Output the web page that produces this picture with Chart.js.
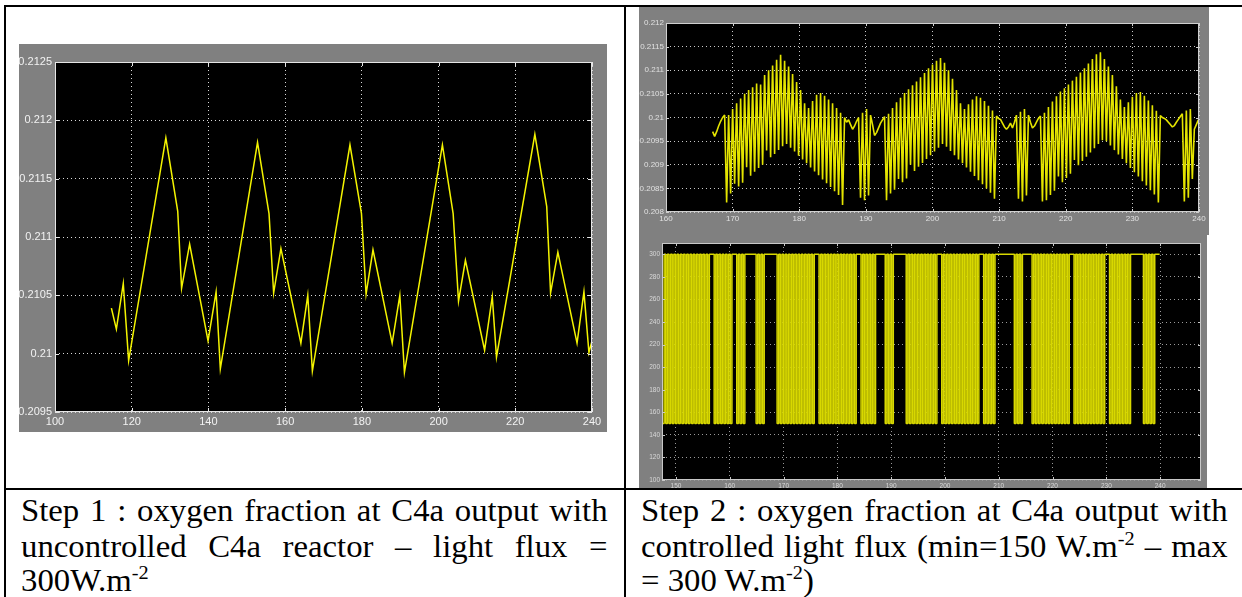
<!DOCTYPE html>
<html>
<head>
<meta charset="utf-8">
<script src="https://cdn.jsdelivr.net/npm/chart.js@4.4.1/dist/chart.umd.min.js"></script>
<style>
html, body { margin: 0; padding: 0; background: #fff; }
body { width: 1242px; height: 597px; position: relative; overflow: hidden; }
.rule { position: absolute; background: #000; }
.scope { position: absolute; background: #808080; }
.cap {
    position: absolute; height: 36px; white-space: nowrap; color: #000;
    font-family: 'Liberation Serif', 'Times New Roman', serif; font-size: 31.5px; line-height: 36px;
    transform-origin: 0 0; transform: scaleX(1.04);
}
.cap.j { white-space: normal; text-align: justify; text-align-last: justify; }
.cap sup { font-size: 0.62em; line-height: 0; vertical-align: 0.6em; }
</style>
</head>
<body>

<div class="rule" style="left:4px;top:5px;width:1238px;height:2px"></div>
<div class="rule" style="left:4px;top:5px;width:2px;height:592px"></div>
<div class="rule" style="left:624px;top:5px;width:2px;height:592px"></div>
<div class="rule" style="left:4px;top:488px;width:1238px;height:2px"></div>

<div class="scope" style="left:19px;top:44px;width:588px;height:388px"><canvas id="stepOneChart"></canvas></div>
<div class="scope" style="left:639px;top:7px;width:570px;height:228px"><canvas id="stepTwoChart"></canvas></div>
<div class="scope" style="left:639px;top:235px;width:568px;height:253px"><canvas id="fluxChart"></canvas></div>

<div class="cap j" style="left:21px;top:493px;width:564px">Step 1 : oxygen fraction at C4a output with</div>
<div class="cap j" style="left:21px;top:529px;width:564px">uncontrolled C4a reactor – light flux =</div>
<div class="cap" style="left:21px;top:563px">300W.m<sup>-2</sup></div>

<div class="cap j" style="left:641px;top:493px;width:564px">Step 2 : oxygen fraction at C4a output with</div>
<div class="cap j" style="left:641px;top:529px;width:564px">controlled light flux (min=150 W.m<sup>-2</sup> – max</div>
<div class="cap" style="left:641px;top:563px">= 300 W.m<sup>-2</sup>)</div>

<script>
/* Step 1 / Step 2 scope captures — oxygen fraction at C4a output */
Chart.defaults.animation = false;
Chart.defaults.devicePixelRatio = 1;

// Step 1: uncontrolled reactor, light flux 300 W/m2 (turning points)
const stepOneTime = [114.7, 116.0, 117.8, 119.2, 128.9, 132.0, 133.0, 135.1, 139.9, 142.0, 143.1,
    152.8, 155.8, 157.0, 158.9, 164.1, 165.9, 167.1,
    176.9, 179.9, 181.1, 182.9, 187.9, 189.9, 191.1,
    201.0, 203.8, 205.2, 207.0, 212.0, 214.0, 215.1,
    225.1, 228.2, 229.2, 231.1, 236.1, 237.9, 239.2, 240.0];
const stepOneO2 = [0.21039, 0.21021, 0.21060, 0.20994, 0.21185, 0.21122, 0.21056, 0.21094, 0.21011, 0.21053, 0.20987,
    0.21181, 0.21120, 0.21052, 0.21090, 0.21009, 0.21050, 0.20985,
    0.21179, 0.21120, 0.21051, 0.21089, 0.21009, 0.21050, 0.20984,
    0.21179, 0.21120, 0.21045, 0.21080, 0.21003, 0.21049, 0.20997,
    0.21188, 0.21126, 0.21052, 0.21087, 0.21009, 0.21053, 0.21001, 0.21011];
const stepOneXTicks = [100, 120, 140, 160, 180, 200, 220, 240];
const stepOneYTicks = [0.2095, 0.21, 0.2105, 0.211, 0.2115, 0.212, 0.2125];

// Step 2: controlled light flux, scope samples every 0.3 from t = 167
const stepTwoStart = 167, stepTwoDt = 0.3;
const stepTwoO2 = [
    // 167.0 - 168.8
    0.20970, 0.20960, 0.20970, 0.20982, 0.20992, 0.21000, 0.21005,
    // ripple burst 169.1 - 186.8
    0.20820, 0.21005, 0.20839, 0.21018, 0.20860, 0.21030, 0.20854, 0.21040, 0.20862, 0.21050,
    0.20895, 0.21058, 0.20877, 0.21064, 0.20885, 0.21072, 0.20893, 0.21070, 0.20900, 0.21090,
    0.20930, 0.21100, 0.20916, 0.21110, 0.20923, 0.21122, 0.20931, 0.21133, 0.20939, 0.21120,
    0.20944, 0.21108, 0.20936, 0.21092, 0.20928, 0.21075, 0.20919, 0.21058, 0.20911, 0.21030,
    0.20903, 0.21020, 0.20894, 0.21035, 0.20886, 0.21048, 0.20878, 0.21052, 0.20869, 0.21046,
    0.20861, 0.21038, 0.20853, 0.21030, 0.20844, 0.21020, 0.20836, 0.21010, 0.20815, 0.21000,
    // 187.1 - 188.9
    0.20990, 0.20995, 0.20985, 0.20975, 0.20982, 0.20992, 0.21000,
    // 189.2 - 190.7
    0.20830, 0.21010, 0.20825, 0.21018, 0.20835, 0.21005,
    // 191.0 - 192.8
    0.20985, 0.20962, 0.20968, 0.20978, 0.20988, 0.20995, 0.21002,
    // ripple burst 193.1 - 209.6
    0.20825, 0.21008, 0.20839, 0.21020, 0.20847, 0.21032, 0.20870, 0.21042, 0.20863, 0.21052,
    0.20871, 0.21060, 0.20900, 0.21068, 0.20887, 0.21076, 0.20896, 0.21085, 0.20904, 0.21094,
    0.20912, 0.21104, 0.20920, 0.21112, 0.20928, 0.21120, 0.20936, 0.21126, 0.20944, 0.21116,
    0.20938, 0.21100, 0.20929, 0.21082, 0.20920, 0.21058, 0.20911, 0.21030, 0.20903, 0.21018,
    0.20894, 0.21028, 0.20885, 0.21038, 0.20876, 0.21045, 0.20867, 0.21042, 0.20859, 0.21035,
    0.20850, 0.21025, 0.20841, 0.21015, 0.20828, 0.21003,
    // 209.9 - 212.6
    0.20998, 0.20996, 0.20988, 0.20980, 0.20975, 0.20980, 0.20988, 0.20978, 0.20990, 0.21005,
    // 212.9 - 214.4
    0.20828, 0.21012, 0.20822, 0.21018, 0.20835, 0.21005,
    // 214.7 - 216.2
    0.20990, 0.20978, 0.20982, 0.20990, 0.20998, 0.21003,
    // ripple burst 216.5 - 234.2
    0.20822, 0.21010, 0.20825, 0.21022, 0.20836, 0.21034, 0.20845, 0.21045, 0.20875, 0.21055,
    0.20863, 0.21062, 0.20872, 0.21070, 0.20881, 0.21078, 0.20910, 0.21086, 0.20899, 0.21095,
    0.20908, 0.21104, 0.20917, 0.21114, 0.20926, 0.21124, 0.20935, 0.21134, 0.20944, 0.21138,
    0.20952, 0.21124, 0.20950, 0.21108, 0.20941, 0.21090, 0.20931, 0.21066, 0.20922, 0.21038,
    0.20912, 0.21022, 0.20903, 0.21032, 0.20893, 0.21044, 0.20884, 0.21052, 0.20875, 0.21054,
    0.20865, 0.21046, 0.20856, 0.21036, 0.20846, 0.21026, 0.20837, 0.21014, 0.20820, 0.21004,
    // 234.5 - 237.5
    0.21000, 0.20998, 0.20995, 0.20990, 0.20985, 0.20980, 0.20983, 0.20990, 0.20996, 0.21002, 0.21008,
    // 237.8 - 239.0
    0.20822, 0.21015, 0.20830, 0.21018, 0.20870,
    // 239.3 - 239.9
    0.20975, 0.20985, 0.20995
];
const stepTwoXTicks = [160, 170, 180, 190, 200, 210, 220, 230, 240];
const stepTwoYTicks = [0.208, 0.2085, 0.209, 0.2095, 0.21, 0.2105, 0.211, 0.2115, 0.212];

// light flux command (W/m2), same 0.3 sampling, from t = 147.5
const fluxStart = 147.5, fluxDt = 0.3;
const fluxValues = [
    150, 300, 150, 300, 150, 300, 150, 300, 150, 300,
    150, 300, 150, 300, 150, 300, 150, 300, 150, 300,
    150, 300, 150, 300, 150, 300, 150, 300, 150, 300,
    300, 300, 150, 300, 150, 300, 150, 300, 150, 300,
    150, 300, 150, 300, 300, 300, 150, 300, 150, 300,
    150, 300, 300, 300, 300, 300, 300, 300, 150, 300,
    150, 300, 150, 300, 300, 300, 300, 300, 300, 300,
    300, 150, 300, 150, 300, 150, 300, 150, 300, 150,
    300, 150, 300, 150, 300, 150, 300, 150, 300, 150,
    300, 150, 300, 150, 300, 300, 300, 150, 300, 150,
    300, 150, 300, 150, 300, 150, 300, 150, 300, 150,
    300, 150, 300, 150, 300, 150, 300, 150, 300, 150,
    300, 300, 300, 150, 300, 150, 300, 150, 300, 150,
    300, 150, 300, 300, 300, 300, 300, 300, 150, 300,
    150, 300, 150, 300, 300, 300, 300, 300, 300, 300,
    300, 150, 300, 150, 300, 150, 300, 150, 300, 150,
    300, 150, 300, 150, 300, 150, 300, 150, 300, 150,
    300, 300, 300, 150, 300, 150, 300, 150, 300, 150,
    300, 150, 300, 150, 300, 150, 300, 150, 300, 150,
    300, 150, 300, 150, 300, 150, 300, 300, 300, 150,
    300, 150, 300, 150, 300, 150, 300, 300, 300, 300,
    300, 300, 300, 300, 300, 300, 300, 300, 150, 300,
    150, 300, 150, 300, 300, 300, 300, 300, 300, 150,
    300, 150, 300, 150, 300, 150, 300, 150, 300, 150,
    300, 150, 300, 150, 300, 150, 300, 150, 300, 150,
    300, 150, 300, 300, 300, 150, 300, 150, 300, 150,
    300, 150, 300, 150, 300, 150, 300, 150, 300, 150,
    300, 150, 300, 150, 300, 300, 300, 150, 300, 150,
    300, 150, 300, 150, 300, 150, 300, 150, 300, 150,
    300, 300, 300, 300, 300, 300, 300, 300, 150, 300,
    150, 300, 150, 300, 150, 300, 300, 300, 300
];
const fluxXTicks = [150, 160, 170, 180, 190, 200, 210, 220, 230, 240];
const fluxYTicks = [100, 120, 140, 160, 180, 200, 220, 240, 260, 280, 300];

// black plot area + light box with inward tick marks, like the Simulink scope
const scopeFrame = {
    id: 'scopeFrame',
    beforeDraw(chart) {
        const { ctx, chartArea: a } = chart;
        ctx.save();
        ctx.fillStyle = '#000';
        ctx.fillRect(a.left, a.top, a.width, a.height);
        ctx.restore();
    },
    afterDraw(chart, args, o) {
        const { ctx, chartArea: a, scales: { x, y } } = chart;
        ctx.save();
        ctx.strokeStyle = o.color;
        ctx.lineWidth = 1;
        ctx.beginPath();
        x.ticks.forEach(t => {
            const px = Math.round(x.getPixelForValue(t.value)) + 0.5;
            ctx.moveTo(px, a.bottom); ctx.lineTo(px, a.bottom - o.tick);
            ctx.moveTo(px, a.top);    ctx.lineTo(px, a.top + o.tick);
        });
        y.ticks.forEach(t => {
            const py = Math.round(y.getPixelForValue(t.value)) + 0.5;
            ctx.moveTo(a.left, py);  ctx.lineTo(a.left + o.tick, py);
            ctx.moveTo(a.right, py); ctx.lineTo(a.right - o.tick, py);
        });
        ctx.stroke();
        ctx.strokeRect(Math.round(a.left) + 0.5, Math.round(a.top) + 0.5, Math.round(a.width) - 1, Math.round(a.height) - 1);
        ctx.restore();
    }
};

const o2Label = v => String(+v.toFixed(4));

function scopeOptions(o) {
    const font = { family: "'Liberation Sans', Arial, sans-serif", size: o.fontSize };
    const axis = (range, ticks, fmt, fit) => ({
        type: 'linear', min: range[0], max: range[1],
        afterBuildTicks: s => { s.ticks = ticks.map(value => ({ value })); },
        afterFit: fit,
        grid: { color: o.grid, lineWidth: 1, drawTicks: false },
        border: { display: false, dash: o.dash },
        ticks: { color: o.label, font, padding: o.pad, autoSkip: false, maxRotation: 0, callback: fmt }
    });
    return {
        responsive: true, maintainAspectRatio: false,
        layout: { padding: o.padding, autoPadding: false },
        events: [],
        plugins: { legend: { display: false }, tooltip: { enabled: false }, scopeFrame: { color: o.frame, tick: o.tick } },
        elements: { point: { radius: 0 }, line: { tension: 0 } },
        scales: {
            x: axis(o.x, o.xTicks, v => String(v), s => { s.height = o.xh; }),
            y: axis(o.y, o.yTicks, o.yFmt, s => { s.width = o.yw; })
        }
    };
}

function mkScope(id, data, line, o) {
    return new Chart(document.getElementById(id), {
        type: 'line',
        data: { datasets: [Object.assign({ data, pointRadius: 0, fill: false }, line)] },
        options: scopeOptions(o),
        plugins: [scopeFrame]
    });
}

mkScope('stepOneChart',
    stepOneTime.map((t, i) => ({ x: t, y: stepOneO2[i] })),
    { borderColor: '#f4f400', borderWidth: 1.5, borderJoinStyle: 'miter' },
    { x: [100, 240], y: [0.2095, 0.2125], xTicks: stepOneXTicks, yTicks: stepOneYTicks, yFmt: o2Label,
      fontSize: 11, label: '#f2f2f2', grid: '#d8d8d8', dash: [1, 3], frame: '#e6e6e6', tick: 4, pad: 3,
      padding: { top: 18, right: 15, left: 0, bottom: 0 }, yw: 36, xh: 20 });

mkScope('stepTwoChart',
    stepTwoO2.map((v, i) => ({ x: stepTwoStart + i * stepTwoDt, y: v })),
    { borderColor: '#e4e400', borderWidth: 1.6, borderJoinStyle: 'bevel' },
    { x: [160, 240], y: [0.208, 0.212], xTicks: stepTwoXTicks, yTicks: stepTwoYTicks, yFmt: o2Label,
      fontSize: 8, label: '#e0e0e0', grid: '#c8c8c8', dash: [1, 3], frame: '#d0d0d0', tick: 3, pad: 2,
      padding: { top: 16, right: 10, left: 0, bottom: 0 }, yw: 27, xh: 23 });

mkScope('fluxChart',
    fluxValues.map((v, i) => ({ x: fluxStart + i * fluxDt, y: v })),
    { borderColor: '#d8d800', borderWidth: 1.5, stepped: true, borderJoinStyle: 'bevel' },
    { x: [147.4, 247.6], y: [100, 310], xTicks: fluxXTicks, yTicks: fluxYTicks, yFmt: v => String(v),
      fontSize: 6.5, label: '#d8d8d8', grid: '#9a9a9a', dash: [1, 3], frame: '#c8c8c8', tick: 3, pad: 2,
      padding: { top: 8, right: 6, left: 0, bottom: 0 }, yw: 23, xh: 8 });
</script>
</body>
</html>
